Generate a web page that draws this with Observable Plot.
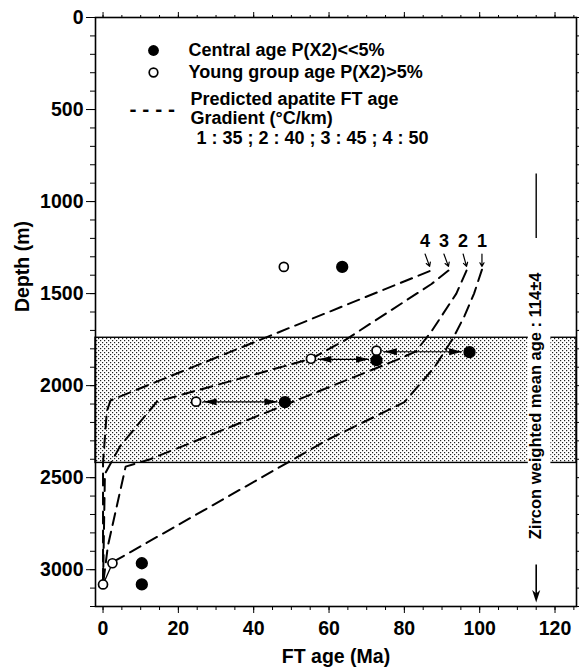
<!DOCTYPE html>
<html>
<head>
<meta charset="utf-8">
<script src="https://cdn.jsdelivr.net/npm/d3@7"></script>
<script src="https://cdn.jsdelivr.net/npm/@observablehq/plot@0.6"></script>
<style>
  html, body { margin: 0; padding: 0; background: #fff; }
  #chart svg { display: block; }
</style>
</head>
<body>
<div id="chart"></div>
<script>
// ---------- data ----------
const xDomain = [-2, 125.7];           // FT age (Ma)
const yDomain = [0, 3200];             // Depth (m)
const xMajorTicks = [0, 20, 40, 60, 80, 100, 120];
const yMajorTicks = [0, 500, 1000, 1500, 2000, 2500, 3000];

// shaded (stippled) depth interval
const bandTop = 1740;
const bandBottom = 2420;

// Central age P(X2)<<5%  (filled)
const centralAge   = [63.5, 97.3, 72.6, 48.3, 10.3, 10.3];
const centralDepth = [1355, 1818, 1862, 2090, 2965, 3080];

// Young group age P(X2)>5%  (open)
const youngAge   = [48.0, 72.6, 55.2, 24.7, 2.5, 0.0];
const youngDepth = [1355, 1810, 1854, 2087, 2965, 3080];

// double arrows between young and central ages
const arrowYoung   = [72.6, 55.2, 24.7];
const arrowCentral = [97.3, 72.6, 48.3];
const arrowDepth   = [1816, 1857, 2088];

// predicted apatite FT age curves (gradient 1:35, 2:40, 3:45, 4:50 °C/km)
const curve1Age   = [100.6, 98.5, 96.0, 93.0, 88.0, 80.0, 60.0, 2.5];
const curve1Depth = [1370, 1500, 1620, 1740, 1900, 2090, 2290, 2960];
const curve2Age   = [96.5, 93.8, 87.2, 83.0, 78.0, 12.5, 6.0, 1.3, 0.0];
const curve2Depth = [1375, 1500, 1705, 1815, 1860, 2400, 2440, 2870, 3080];
const curve3Age   = [91.7, 87.2, 63.7, 55.2, 14.3, 4.5, 0.5, 0.0];
const curve3Depth = [1375, 1448, 1760, 1854, 2087, 2330, 2480, 3080];
const curve4Age   = [86.7, 2.0, 1.0, 0.0, 0.0];
const curve4Depth = [1378, 2080, 2140, 2420, 3080];

const curveNames  = ["1", "2", "3", "4"];
const curveLabelAge = [100.6, 95.6, 90.5, 85.5];
const curveLabelDepth = 1215;
const curveArrowStart = 1285;
const curveArrowEnd = 1352;

// zircon annotation
const zirconAge = 115;
const zirconText = "Zircon weighted mean age : 114±4";
const zirconTextDepth = 2110;
const zirconLine = [850, 1200];
const zirconArrow = [2975, 3150];
const zirconBlank = [112.9, 118.9, 1290, 2920];

// legend text
const legendLines = [
  "Central age P(X2)<<5%",
  "Young group age P(X2)>5%",
  "Predicted apatite FT age",
  "Gradient (°C/km)",
  "1 : 35 ; 2 : 40 ; 3 : 45 ; 4 : 50"
];

// ---------- build tables ----------
const central = centralAge.map((a, i) => ({age: a, depth: centralDepth[i]}));
const young = youngAge.map((a, i) => ({age: a, depth: youngDepth[i]}));
const arrows = arrowYoung.map((y, i) => ({young: y, central: arrowCentral[i], depth: arrowDepth[i]}));
const curveAges = [curve1Age, curve2Age, curve3Age, curve4Age];
const curveDepths = [curve1Depth, curve2Depth, curve3Depth, curve4Depth];
const curves = curveAges.flatMap((ages, k) => ages.map((a, i) => ({curve: curveNames[k], age: a, depth: curveDepths[k][i]})));
const curveLabels = curveNames.map((n, k) => ({name: n, age: curveLabelAge[k]}));
const curveArrows = curveNames.map((n, k) => ({x1: curveLabelAge[k], x2: curveAges[k][0], y1: curveArrowStart, y2: curveArrowEnd}));

const headRight = {draw(ctx, size) { const r = Math.sqrt(size / Math.PI); ctx.moveTo(r * 1.6, 0); ctx.lineTo(-r * 1.6, -r * 0.85); ctx.lineTo(-r * 1.6, r * 0.85); ctx.closePath(); }};
const headLeft  = {draw(ctx, size) { const r = Math.sqrt(size / Math.PI); ctx.moveTo(-r * 1.6, 0); ctx.lineTo(r * 1.6, -r * 0.85); ctx.lineTo(r * 1.6, r * 0.85); ctx.closePath(); }};
const headDown  = {draw(ctx, size) { const r = Math.sqrt(size / Math.PI); ctx.moveTo(0, r * 1.6); ctx.lineTo(-r * 0.9, -r * 1.2); ctx.lineTo(0, -r * 0.4); ctx.lineTo(r * 0.9, -r * 1.2); ctx.closePath(); }};

const font = "'Liberation Sans', Arial, Helvetica, sans-serif";
const blank = () => "";
const FS = 18;

const chart = Plot.plot({
  width: 579,
  height: 672,
  marginLeft: 95,
  marginRight: 3,
  marginTop: 17,
  marginBottom: 66,
  style: {fontFamily: font, fontWeight: "bold", color: "black", background: "white"},
  x: {domain: xDomain},
  y: {domain: yDomain, reverse: true},
  marks: [
    // stippled band
    Plot.rect([{top: bandTop, bottom: bandBottom}], {x1: xDomain[0], x2: xDomain[1], y1: "top", y2: "bottom", fill: "url(#stipple)", stroke: "black", strokeWidth: 1.4}),
    // white box behind zircon text
    Plot.rect([zirconBlank], {x1: d => d[0], x2: d => d[1], y1: d => d[2], y2: d => d[3], fill: "white"}),
    // predicted curves
    Plot.line(curves, {x: "age", y: "depth", z: "curve", stroke: "black", strokeWidth: 2, strokeDasharray: "12,7", curve: "linear"}),
    // curve labels + small arrows
    Plot.text(curveLabels, {x: "age", y: () => curveLabelDepth, text: "name", fontSize: 18, fontWeight: "bold", fill: "black"}),
    Plot.arrow(curveArrows, {x1: "x1", y1: "y1", x2: "x2", y2: "y2", headLength: 6, strokeWidth: 1.2, stroke: "black"}),
    // double arrows
    Plot.ruleY(arrows, {y: "depth", x1: "young", x2: "central", insetLeft: 7, insetRight: 7, strokeWidth: 1.2, stroke: "black"}),
    Plot.dot(arrows, {x: "young", y: "depth", dx: 14, r: 4, symbol: headLeft, fill: "black", stroke: "none"}),
    Plot.dot(arrows, {x: "central", y: "depth", dx: -14, r: 4, symbol: headRight, fill: "black", stroke: "none"}),
    // line between bottom young ages
    Plot.line(young.slice(-2), {x: "age", y: "depth", stroke: "black", strokeWidth: 1.3}),
    // points
    Plot.dot(central, {x: "age", y: "depth", r: 5.4, fill: "black", stroke: "black"}),
    Plot.dot(young, {x: "age", y: "depth", r: 4.5, fill: "white", stroke: "black", strokeWidth: 1.7}),
    // zircon annotation
    Plot.ruleX([zirconAge], {x: d => d, y1: zirconLine[0], y2: zirconLine[1], strokeWidth: 1.4, stroke: "black"}),
    Plot.text([zirconText], {x: zirconAge, y: zirconTextDepth, text: d => d, rotate: -90, fontSize: 16.5, fontWeight: "bold", fill: "black"}),
    Plot.ruleX([zirconAge], {x: d => d, y1: zirconArrow[0], y2: zirconArrow[1], strokeWidth: 1.6, stroke: "black"}),
    Plot.dot([zirconAge], {x: d => d, y: zirconArrow[1], dy: -2, r: 4.5, symbol: headDown, fill: "black", stroke: "none"}),
    // legend
    Plot.dot([0], {frameAnchor: "top-left", dx: 58, dy: 33, r: 5.4, fill: "black"}),
    Plot.dot([0], {frameAnchor: "top-left", dx: 58, dy: 55, r: 4.3, fill: "white", stroke: "black", strokeWidth: 1.7}),
    Plot.text(["- - - -"], {frameAnchor: "top-left", dx: 34, dy: 92, text: d => d, textAnchor: "start", lineAnchor: "middle", fontSize: 21, fontWeight: "bold", fill: "black"}),
    Plot.text([legendLines[0]], {frameAnchor: "top-left", dx: 93, dy: 33, text: d => d, textAnchor: "start", lineAnchor: "middle", fontSize: FS, fill: "black"}),
    Plot.text([legendLines[1]], {frameAnchor: "top-left", dx: 93, dy: 55, text: d => d, textAnchor: "start", lineAnchor: "middle", fontSize: FS, fill: "black"}),
    Plot.text([legendLines[2]], {frameAnchor: "top-left", dx: 95, dy: 82, text: d => d, textAnchor: "start", lineAnchor: "middle", fontSize: FS, fill: "black"}),
    Plot.text([legendLines[3]], {frameAnchor: "top-left", dx: 95, dy: 101, text: d => d, textAnchor: "start", lineAnchor: "middle", fontSize: FS, fill: "black"}),
    Plot.text([legendLines[4]], {frameAnchor: "top-left", dx: 101, dy: 121, text: d => d, textAnchor: "start", lineAnchor: "middle", fontSize: FS, fill: "black"}),
    // axes
    Plot.axisX({anchor: "bottom", ticks: d3.range(0, 126, 5), tickSize: 4, tickFormat: blank, label: null}),
    Plot.axisX({anchor: "bottom", ticks: xMajorTicks, tickSize: 7, tickPadding: 8, fontSize: 19.5, fontWeight: "bold", label: null, tickFormat: d => String(d)}),
    Plot.axisX({anchor: "top", ticks: d3.range(0, 126, 5), tickSize: 3, tickFormat: blank, label: null}),
    Plot.axisX({anchor: "top", ticks: xMajorTicks, tickSize: 6, tickFormat: blank, label: null}),
    Plot.axisY({anchor: "left", ticks: d3.range(0, 3201, 100), tickSize: 5, tickFormat: blank, label: null}),
    Plot.axisY({anchor: "left", ticks: yMajorTicks, tickSize: 9, tickPadding: 3, fontSize: 19.5, fontWeight: "bold", label: null, tickFormat: d => String(d)}),
    Plot.axisY({anchor: "right", ticks: d3.range(0, 3201, 100), tickSize: 3, tickFormat: blank, label: null}),
    Plot.text(["FT age (Ma)"], {frameAnchor: "bottom", dy: 50, text: d => d, lineAnchor: "middle", fontSize: 19.5, fontWeight: "bold", fill: "black"}),
    Plot.text(["Depth (m)"], {frameAnchor: "left", dx: -73, text: d => d, rotate: -90, lineAnchor: "middle", fontSize: 19.5, fontWeight: "bold", fill: "black"}),
    Plot.frame({stroke: "black", strokeWidth: 1.6})
  ]
});

// stipple pattern for the band
const defs = d3.select(chart).insert("defs", ":first-child");
const pat = defs.append("pattern").attr("id", "stipple").attr("width", 4).attr("height", 4).attr("patternUnits", "userSpaceOnUse");
pat.append("rect").attr("width", 4).attr("height", 4).attr("fill", "white");
pat.append("rect").attr("x", 0).attr("y", 0).attr("width", 1.2).attr("height", 1.2).attr("fill", "#222");
pat.append("rect").attr("x", 2).attr("y", 2).attr("width", 1.2).attr("height", 1.2).attr("fill", "#222");

document.getElementById("chart").appendChild(chart);
</script>
</body>
</html>
